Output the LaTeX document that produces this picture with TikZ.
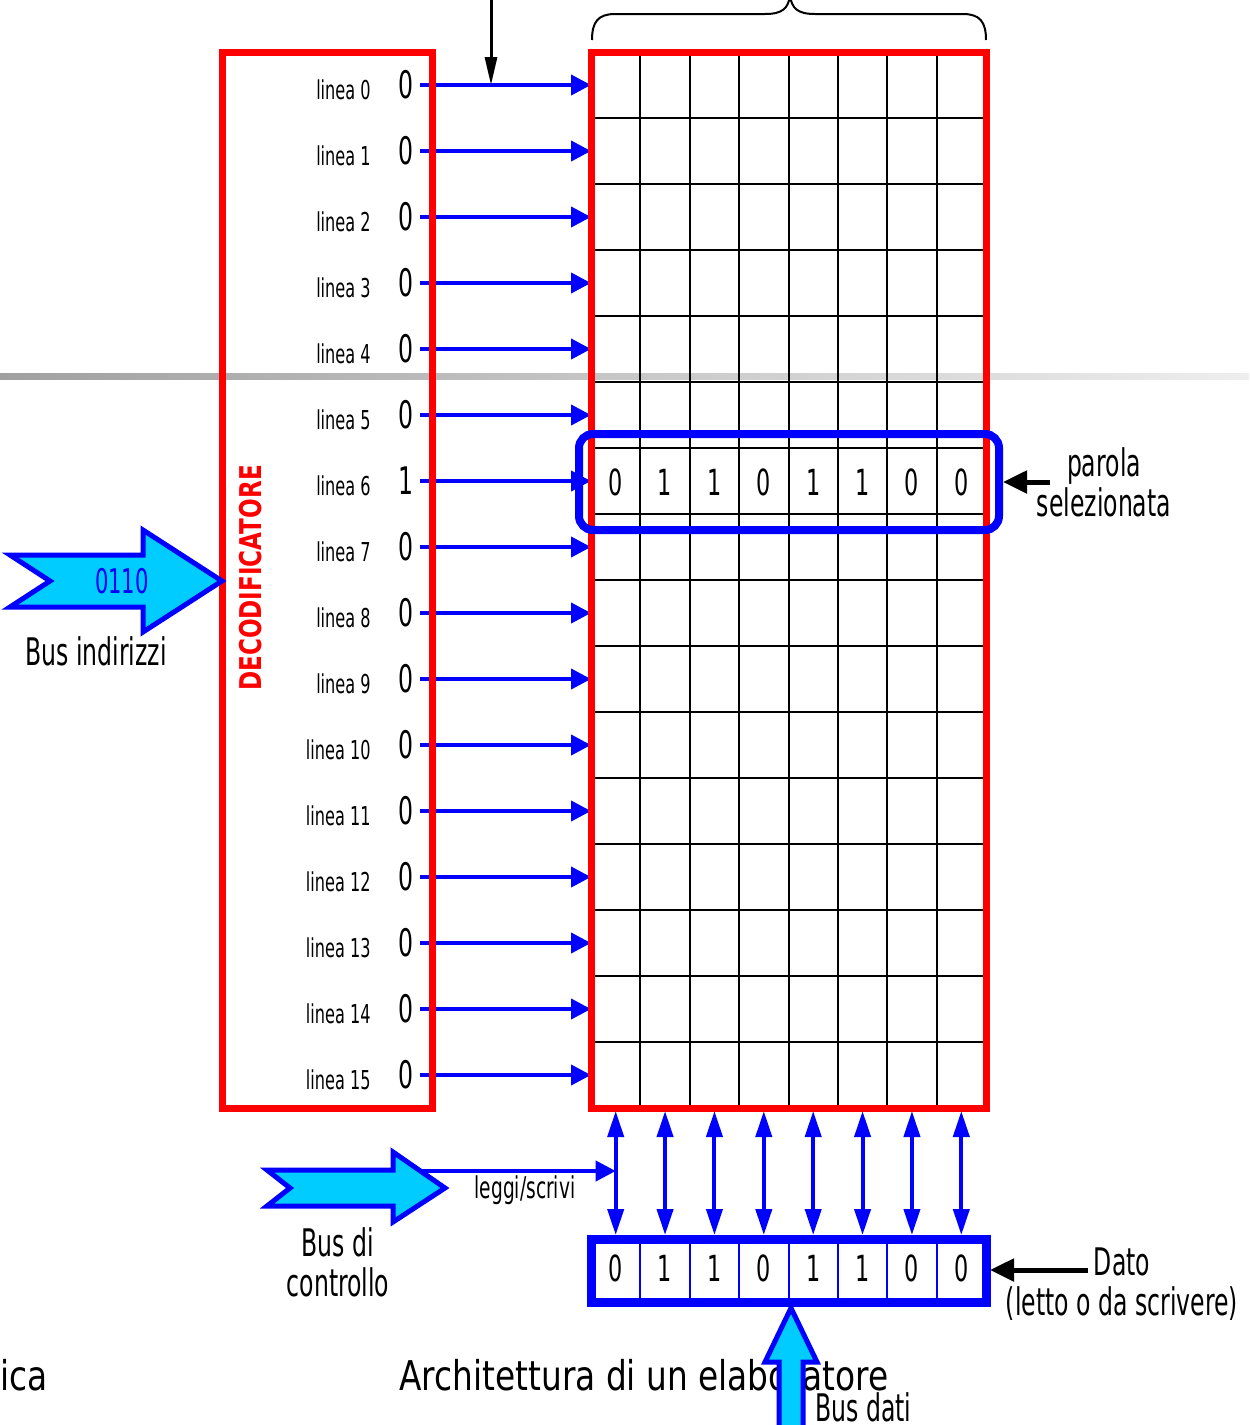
\documentclass[tikz,border=0pt]{standalone}
\usepackage{fontspec}
\setmainfont{DejaVu Sans}
\newfontfamily\nf[FakeStretch=0.62]{DejaVu Sans}
\newfontfamily\df[FakeStretch=0.77]{DejaVu Sans}
\newfontfamily\ff[FakeStretch=0.8]{DejaVu Sans}
\usetikzlibrary{arrows.meta}
\definecolor{mred}{RGB}{255,0,0}
\definecolor{mblue}{RGB}{0,0,255}
\definecolor{mcyan}{RGB}{0,204,255}
\definecolor{glL}{RGB}{160,160,160}
\definecolor{glR}{RGB}{238,238,238}
\begin{document}
\begin{tikzpicture}[x=0.5pt,y=-0.5pt,
  redbox/.style={draw=mred,line width=3.5pt},
  gridline/.style={draw=black,line width=1pt},
  bluearr/.style={draw=mblue,line width=2pt,-{Triangle[length=10pt,width=10pt]}},
  dblarr/.style={draw=mblue,line width=2pt,{Triangle[length=13pt,width=8pt]}-{Triangle[length=13pt,width=8pt]}},
  blackarr/.style={draw=black,line width=2.5pt,-{Triangle[length=12pt,width=11pt]}},
  bigarrow/.style={fill=mcyan,draw=mblue,line width=2.5pt,line join=miter},
  lab/.style={inner sep=0pt,font=\nf\fontsize{13}{15}\selectfont},
  dig/.style={inner sep=0pt,font=\nf\fontsize{19}{22}\selectfont},
  cell/.style={inner sep=0pt,font=\nf\fontsize{18}{21}\selectfont},
  txt/.style={inner sep=0pt,align=center,font=\nf\fontsize{19}{20}\selectfont},
  foot/.style={inner sep=0pt,font=\ff\fontsize{20.5}{24}\selectfont}]
\useasboundingbox (0,0) rectangle (1249,1425);

% gray separator line (background)
\shade[left color=glL,right color=glR] (0,373) rectangle (1249,379);

% footer texts
\node[foot,anchor=base west] (ica) at (0,1390) {ica};
\node[foot,anchor=base west] (arch) at (399,1390) {Architettura di un elaboratore};

% memory grid
\foreach \i in {1,...,7}
  \draw[gridline] ({591+49.375*\i},52) -- ({591+49.375*\i},1108);
\foreach \j in {1,...,15}
  \draw[gridline] (591,{52+66*\j}) -- (986,{52+66*\j});

% decoder lines
\foreach \k/\v in {0/0,1/0,2/0,3/0,4/0,5/0,6/1,7/0,8/0,9/0,10/0,11/0,12/0,13/0,14/0,15/0}{
  \coordinate (o\k) at (420,{85+66*\k});
  \coordinate (w\k) at (591,{85+66*\k});
  \node[lab,anchor=east] (l\k) at (371,{90+66*\k}) {linea \k};
  \node[dig] (d\k) at (406,{85+66*\k}) {\v};
  \draw[bluearr] (o\k) -- (w\k);
}

% boxes
\draw[redbox] (222,52) rectangle (432,1108);
\draw[redbox] (591,52) rectangle (986,1108);
\node[rotate=90,text=mred,inner sep=0pt,font=\df\bfseries\fontsize{15}{18}\selectfont] (dec) at (251,578) {DECODIFICATORE};

% top arrow
\coordinate (topin) at (491,-4);
\draw[draw=black,line width=1.5pt,-{Triangle[length=14pt,width=6pt]}] (topin) -- (topin |- o0);

% brace
\draw[line width=1pt] (592,40) .. controls (592,22) and (598,14) .. (615,14) -- (765,14) .. controls (783,14) and (788,8) .. (790,-4);
\draw[line width=1pt] (986,40) .. controls (986,22) and (980,14) .. (963,14) -- (815,14) .. controls (797,14) and (792,8) .. (790,-4);

% selected word
\foreach \b [count=\i from 0] in {0,1,1,0,1,1,0,0}
  \node[cell] (s\i) at ({591+49.375*(\i+0.5)},482) {\b};
\draw[mblue,line width=4pt,rounded corners=7pt] (579,434) rectangle (999,530);
\coordinate (selR) at (1003,482);
\node[txt] (parola) at (1104,482) {parola\\selezionata};
\draw[blackarr] (1050,482) -- (selR);

% bus indirizzi
\draw[bigarrow] (10,555) -- (143,555) -- (143,530) -- (222,581) -- (143,632) -- (143,607) -- (10,607) -- (50,581) -- cycle;
\node[inner sep=0pt,text=mblue,font=\nf\fontsize{17}{20}\selectfont] (addr) at (122,581) {0110};
\node[txt] (busind) at (96,651) {Bus indirizzi};

% data register
\foreach \i in {1,...,7}
  \draw[mblue,line width=1pt] ({591+49.375*\i},1239) -- ({591+49.375*\i},1302);
\draw[mblue,line width=4.5pt] (591,1239) rectangle (986,1302);
\foreach \b [count=\i from 0] in {0,1,1,0,1,1,0,0}{
  \node[cell] (r\i) at ({591+49.375*(\i+0.5)},1268) {\b};
  \coordinate (ua\i) at ({591+49.375*(\i+0.5)},1111);
  \coordinate (ub\i) at ({591+49.375*(\i+0.5)},1235);
  \draw[dblarr] (ua\i) -- (ub\i);
}

% bus di controllo
\coordinate (ctrl) at (420,1171);
\draw[bluearr] (ctrl) -- (ctrl -| ua0);
\draw[bigarrow] (267,1170) -- (393,1170) -- (393,1152) -- (445,1188) -- (393,1222) -- (393,1206) -- (267,1206) -- (290,1188) -- cycle;
\node[inner sep=0pt,font=\nf\fontsize{15}{18}\selectfont] (rw) at (525,1190) {leggi/scrivi};
\node[txt] (busctrl) at (338,1262) {Bus di\\controllo};

% dato
\coordinate (regR) at (990,1270);
\draw[blackarr] (1088,1270) -- (regR);
\node[txt] (dato) at (1122,1262) {Dato};
\node[txt] (letto) at (1122,1304) {(letto o da scrivere)};

% bus dati
\draw[bigarrow] (779,1440) -- (779,1362) -- (765,1362) -- (791,1308) -- (817,1362) -- (803,1362) -- (803,1440) -- cycle;
\node[txt,anchor=west] (busdati) at (815,1407) {Bus dati};
\end{tikzpicture}
\end{document}
